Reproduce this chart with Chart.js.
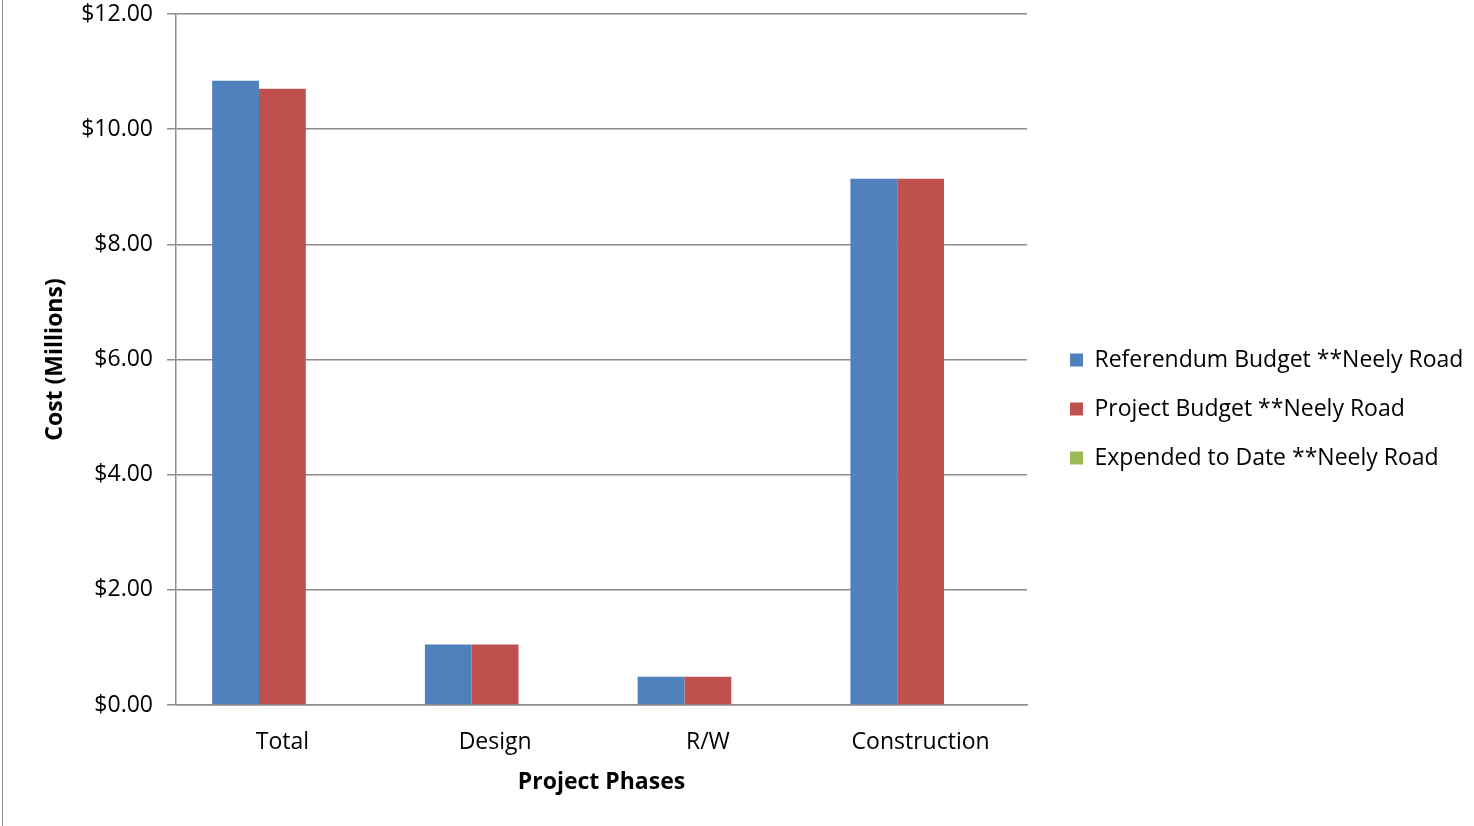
<!DOCTYPE html>
<html>
<head>
<meta charset="utf-8">
<script src="https://cdn.jsdelivr.net/npm/chart.js@4"></script>
<style>
  html, body { margin: 0; padding: 0; background: #fff; }
  #wrap { position: relative; width: 1474px; height: 826px; }
  #edge { position: absolute; left: 2px; top: 0; width: 1px; height: 826px; background: #8c8c8c; }
</style>
</head>
<body>
<div id="wrap">
  <canvas id="chart" width="1474" height="826"></canvas>
  <div id="edge"></div>
</div>
<script>
  // ── Data (millions of dollars) ─────────────────────────────────────────
  const phases     = ['Total', 'Design', 'R/W', 'Construction'];
  const referendum = [10.84, 1.05, 0.49, 9.14];
  const project    = [10.70, 1.05, 0.49, 9.14];
  const expended   = [0, 0, 0, 0];
  const seriesNames = [
    'Referendum Budget **Neely Road',
    'Project Budget **Neely Road',
    'Expended to Date **Neely Road'
  ];

  const BLUE  = '#4F81BD';
  const RED   = '#C0504D';
  const GREEN = '#9BBB59';
  const GRID  = '#8c8c8c';
  const FONT  = "'Open Sans', 'Noto Sans', sans-serif";
  const SIZE  = 23;

  Chart.defaults.font.family = FONT;
  Chart.defaults.color = '#000';

  // legend sits in a fixed-width column to the right of the plot
  const legendColumn = {
    id: 'legendColumn',
    afterInit(chart) {
      const lg = chart.legend;
      const fit = lg.fit.bind(lg);
      lg.fit = function() { fit(); this.width = 447; };
    },
    afterLayout(chart) {
      chart.legend.left += 17;
      chart.legend.top += 2;
      chart.legend.bottom += 2;
    }
  };

  new Chart(document.getElementById('chart'), {
    type: 'bar',
    data: {
      labels: phases,
      datasets: [
        { label: seriesNames[0], data: referendum, backgroundColor: BLUE },
        { label: seriesNames[1], data: project,    backgroundColor: RED },
        { label: seriesNames[2], data: expended,   backgroundColor: GREEN }
      ]
    },
    options: {
      responsive: false,
      animation: false,
      layout: { padding: { top: 14, left: 38, right: 0, bottom: 26 } },
      datasets: { bar: { categoryPercentage: 0.66, barPercentage: 1.0 } },
      scales: {
        x: {
          grid: { display: false },
          border: { display: true, color: GRID, width: 1.5 },
          ticks: { font: { size: SIZE }, padding: 16 },
          title: { display: true, text: 'Project Phases', font: { size: SIZE, weight: 'bold' }, padding: { top: 4, bottom: 4 } },
          afterFit: s => { s.height = 95; }
        },
        y: {
          min: 0,
          max: 12,
          ticks: { stepSize: 2, font: { size: SIZE }, padding: 14, callback: v => '$' + v.toFixed(2) },
          grid: { color: GRID, lineWidth: 1.5, tickLength: 9 },
          border: { display: true, color: GRID, width: 1.5 },
          title: { display: true, text: 'Cost (Millions)', font: { size: SIZE, weight: 'bold' }, padding: { top: 4, bottom: 4 } },
          afterFit: s => { s.width = 138; s.paddingTop = 0; s.paddingBottom = 0; }
        }
      },
      plugins: {
        legend: {
          position: 'right',
          labels: { boxWidth: 13, boxHeight: 13, padding: 26, font: { size: SIZE } }
        },
        tooltip: { enabled: false }
      }
    },
    plugins: [legendColumn]
  });
</script>
</body>
</html>
